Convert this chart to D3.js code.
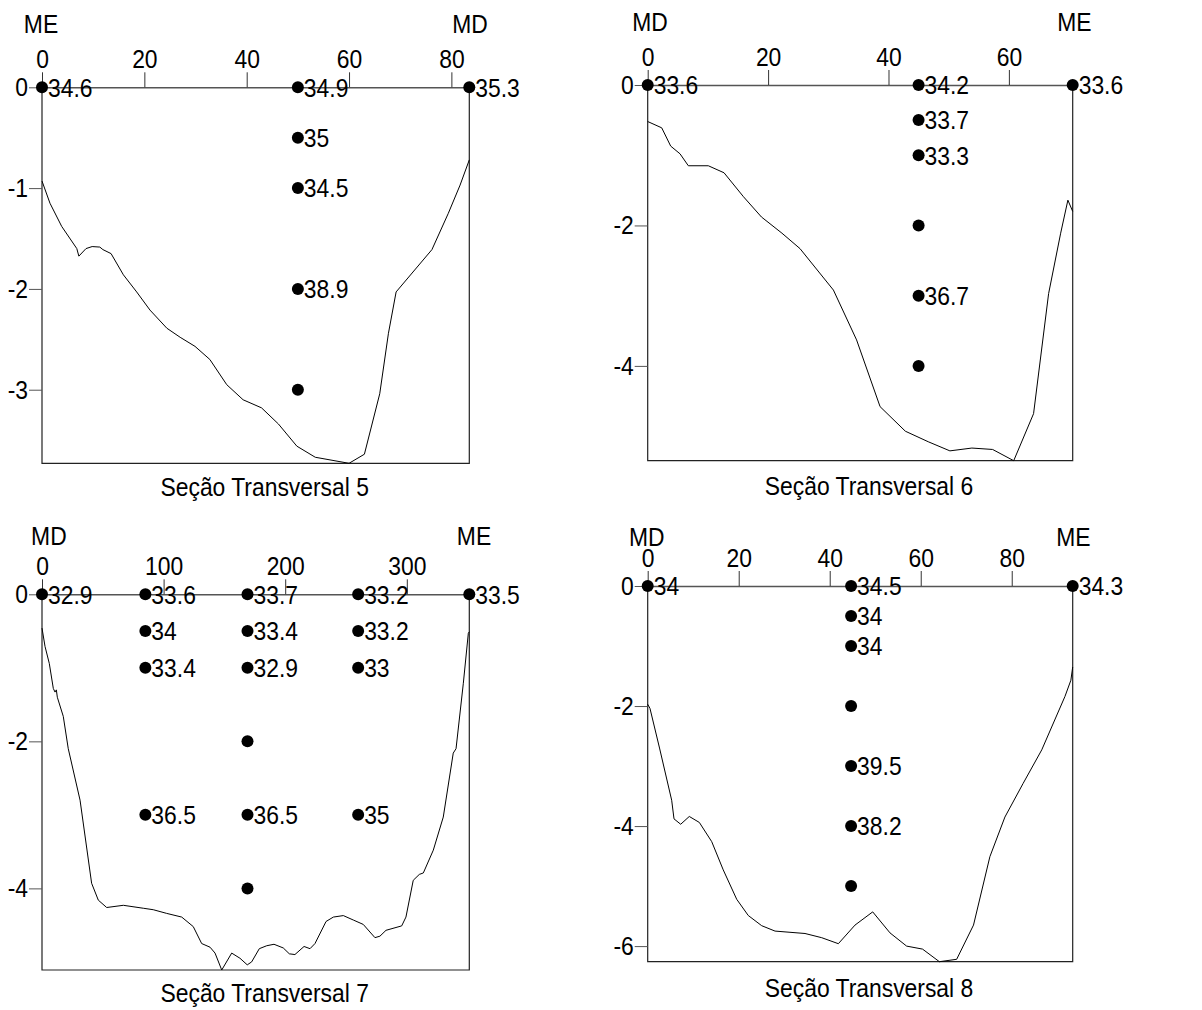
<!DOCTYPE html>
<html>
<head>
<meta charset="utf-8">
<script src="https://cdn.jsdelivr.net/npm/d3@7"></script>
<style>
  body { margin: 0; background: #fff; }
  svg text { font-family: Arial, "Liberation Sans", sans-serif; font-size: 26px; fill: #000;
             transform-box: fill-box; transform: scaleX(0.88); }
  .a-mid { transform-origin: center; }
  .a-end { transform-origin: right center; }
  .a-start { transform-origin: left center; }
</style>
</head>
<body>
<svg id="chart" width="1202" height="1010"></svg>
<script>
// bed profiles: [distance (m), depth (m)]
const prof5 = [[0,-0.93],[1.56,-1.15],[3.85,-1.38],[6.8,-1.6],[7.2,-1.675],[8.6,-1.6],[9.8,-1.58],[11.3,-1.585],[11.9,-1.61],
  [13.5,-1.65],[15.9,-1.86],[18.5,-2.03],[21.1,-2.21],[24.4,-2.39],[27,-2.48],[29.9,-2.57],[32.8,-2.7],[36.1,-2.95],
  [39.3,-3.1],[42.9,-3.18],[46.2,-3.34],[49.8,-3.56],[53.4,-3.67],[60,-3.73],[63,-3.64],[66,-3.04],[67.7,-2.44],
  [69.2,-2.03],[76.2,-1.61],[79.4,-1.25],[81.7,-0.97],[83.5,-0.72]];
const prof6 = [[0,-0.52],[2.33,-0.61],[3.82,-0.87],[5.37,-0.98],[6.75,-1.15],[10.07,-1.15],[12.68,-1.25],[15.9,-1.59],
  [18.9,-1.88],[22.3,-2.11],[25.3,-2.33],[30.85,-2.92],[34.7,-3.63],[38.6,-4.58],[42.8,-4.93],[46.6,-5.08],[50.2,-5.21],
  [53.85,-5.17],[57.3,-5.19],[60.8,-5.35],[64.1,-4.68],[66.6,-2.97],[68.6,-2.11],[69.8,-1.64],[70.6,-1.8]];
const prof7 = [[0,-0.46],[2.5,-0.71],[6,-0.94],[9.3,-1.28],[10.7,-1.33],[11.8,-1.3],[12.6,-1.4],[17.5,-1.66],[21.6,-2.1],
  [31.3,-2.8],[40.8,-3.93],[46.3,-4.16],[53.2,-4.26],[66.9,-4.23],[83.3,-4.27],[91.5,-4.29],[102.5,-4.34],[114.9,-4.39],
  [124.4,-4.52],[131.3,-4.75],[138.2,-4.8],[142.3,-4.88],[147.8,-5.11],[156,-4.88],[162.8,-4.95],[168.8,-5.04],
  [172.4,-5.0],[178.7,-4.82],[184.8,-4.78],[190.8,-4.76],[198.4,-4.81],[203.4,-4.89],[208,-4.9],[215.5,-4.79],
  [220.4,-4.82],[224.5,-4.75],[233.6,-4.45],[239.6,-4.39],[247.8,-4.37],[256,-4.43],[264.2,-4.49],[273.8,-4.67],
  [277.9,-4.65],[282.9,-4.57],[295.8,-4.51],[299.3,-4.39],[305.3,-3.89],[310.3,-3.81],[313.6,-3.79],[321.8,-3.48],
  [330,-3.03],[338.2,-2.16],[340.5,-2.1],[346.5,-1.21],[350.6,-0.53],[351.4,-0.51]];
const prof8 = [[0,-1.97],[0.5,-2.04],[2.6,-2.7],[5.27,-3.57],[5.78,-3.88],[7.25,-3.97],[9.14,-3.84],[11.35,-3.94],
  [14.07,-4.26],[16.6,-4.73],[19.56,-5.22],[22.1,-5.49],[25.05,-5.66],[27.98,-5.75],[31.27,-5.77],[34.57,-5.79],
  [38.24,-5.86],[41.9,-5.96],[45.56,-5.65],[49.45,-5.43],[53.25,-5.78],[56.9,-6.0],[60.4,-6.05],[64.1,-6.26],
  [67.9,-6.22],[71.6,-5.65],[75.2,-4.51],[78.5,-3.85],[82.5,-3.29],[86.6,-2.73],[91.7,-1.84],[93,-1.57],[93.4,-1.35]];

// sampling points: [distance, depth, salinity]
const dots5 = [[0,0,34.6],[50,0,34.9],[50,-0.5,35],[50,-1,34.5],[50,-2,38.9],[50,-3,null],[83.5,0,35.3]];
const dots6 = [[0,0,33.6],[45,0,34.2],[45,-0.5,33.7],[45,-1,33.3],[45,-2,null],[45,-3,36.7],[45,-4,null],[70.6,0,33.6]];
const dots7 = [[0,0,32.9],[85,0,33.6],[85,-0.5,34],[85,-1,33.4],[85,-3,36.5],
  [169,0,33.7],[169,-0.5,33.4],[169,-1,32.9],[169,-2,null],[169,-3,36.5],[169,-4,null],
  [260,0,33.2],[260,-0.5,33.2],[260,-1,33],[260,-3,35],[351.4,0,33.5]];
const dots8 = [[0,0,34],[44.7,0,34.5],[44.7,-0.5,34],[44.7,-1,34],[44.7,-2,null],[44.7,-3,39.5],[44.7,-4,38.2],[44.7,-5,null],[93.4,0,34.3]];

const xTicks5 = [0,20,40,60,80], yTicks5 = [0,-1,-2,-3];
const xTicks6 = [0,20,40,60],    yTicks6 = [0,-2,-4];
const xTicks7 = [0,100,200,300], yTicks7 = [0,-2,-4];
const xTicks8 = [0,20,40,60,80], yTicks8 = [0,-2,-4,-6];

const panels = [
  {title: "Seção Transversal 5", left: 42, right: 469.3, top: 87.3, bottom: 463.3, xMax: 83.5, yMin: -3.73,
   prof: prof5, dots: dots5, xTicks: xTicks5, yTicks: yTicks5, lName: "ME", rName: "MD",
   lX: 41, rX: 470, nameY: 33, titleX: 264.7, titleY: 496},
  {title: "Seção Transversal 6", left: 647.7, right: 1072.7, top: 85, bottom: 460.7, xMax: 70.6, yMin: -5.35,
   prof: prof6, dots: dots6, xTicks: xTicks6, yTicks: yTicks6, lName: "MD", rName: "ME",
   lX: 650, rX: 1074.3, nameY: 30.7, titleX: 869, titleY: 495},
  {title: "Seção Transversal 7", left: 42, right: 469.3, top: 594.3, bottom: 970, xMax: 351.4, yMin: -5.11,
   prof: prof7, dots: dots7, xTicks: xTicks7, yTicks: yTicks7, lName: "MD", rName: "ME",
   lX: 48.9, rX: 474, nameY: 545, titleX: 264.7, titleY: 1001.7},
  {title: "Seção Transversal 8", left: 647.7, right: 1072.7, top: 586, bottom: 961.7, xMax: 93.4, yMin: -6.26,
   prof: prof8, dots: dots8, xTicks: xTicks8, yTicks: yTicks8, lName: "MD", rName: "ME",
   lX: 646.7, rX: 1073.3, nameY: 545.7, titleX: 869, titleY: 996.7}
];

const fmt = d => String(d); // plain hyphen minus, no decimals

const svg = d3.select("#chart");

panels.forEach(p => {
  const x = d3.scaleLinear().domain([0, p.xMax]).range([p.left, p.right]);
  const y = d3.scaleLinear().domain([p.yMin, 0]).range([p.bottom, p.top]);
  const g = svg.append("g");

  // frame (left, bottom, right)
  g.append("path")
    .attr("d", `M${p.left},${p.top}V${p.bottom}H${p.right}V${p.top}`)
    .attr("fill", "none").attr("stroke", "#222").attr("stroke-width", 1.2);

  // top distance axis
  const xa = g.append("g")
    .attr("transform", `translate(0,${p.top})`)
    .call(d3.axisTop(x).tickValues(p.xTicks).tickFormat(fmt).tickSize(15).tickPadding(4).tickSizeOuter(0));
  xa.select(".domain").attr("stroke", "#555").attr("stroke-width", 1.6);
  xa.selectAll(".tick line").attr("stroke", "#333");
  xa.selectAll("text").attr("class", "a-mid");

  // left depth axis
  const ya = g.append("g")
    .attr("transform", `translate(${p.left},0)`)
    .call(d3.axisLeft(y).tickValues(p.yTicks).tickFormat(fmt).tickSize(13).tickPadding(1).tickSizeOuter(0));
  ya.select(".domain").remove();
  ya.selectAll(".tick line").attr("stroke", "#555");
  ya.selectAll("text").attr("class", "a-end");
  g.selectAll(".tick text").attr("fill", "#000");
  xa.attr("font-size", null).attr("font-family", null);
  ya.attr("font-size", null).attr("font-family", null);

  // bed profile
  g.append("path")
    .datum(p.prof)
    .attr("fill", "none").attr("stroke", "#000").attr("stroke-width", 1)
    .attr("d", d3.line().x(d => x(d[0])).y(d => y(d[1])));

  // sampling points and labels
  g.selectAll("circle").data(p.dots).join("circle")
    .attr("cx", d => x(d[0])).attr("cy", d => y(d[1])).attr("r", 6).attr("fill", "#000");
  g.selectAll("text.val").data(p.dots.filter(d => d[2] !== null)).join("text")
    .attr("class", "val a-start")
    .attr("x", d => x(d[0]) + 6).attr("y", d => y(d[1])).attr("dy", "0.36em")
    .text(d => d[2]);

  // bank names and title
  g.append("text").attr("class", "a-mid").attr("text-anchor", "middle")
    .attr("x", p.lX).attr("y", p.nameY).text(p.lName);
  g.append("text").attr("class", "a-mid").attr("text-anchor", "middle")
    .attr("x", p.rX).attr("y", p.nameY).text(p.rName);
  g.append("text").attr("class", "a-mid").attr("text-anchor", "middle")
    .attr("x", p.titleX).attr("y", p.titleY).text(p.title);
});
</script>
</body>
</html>
